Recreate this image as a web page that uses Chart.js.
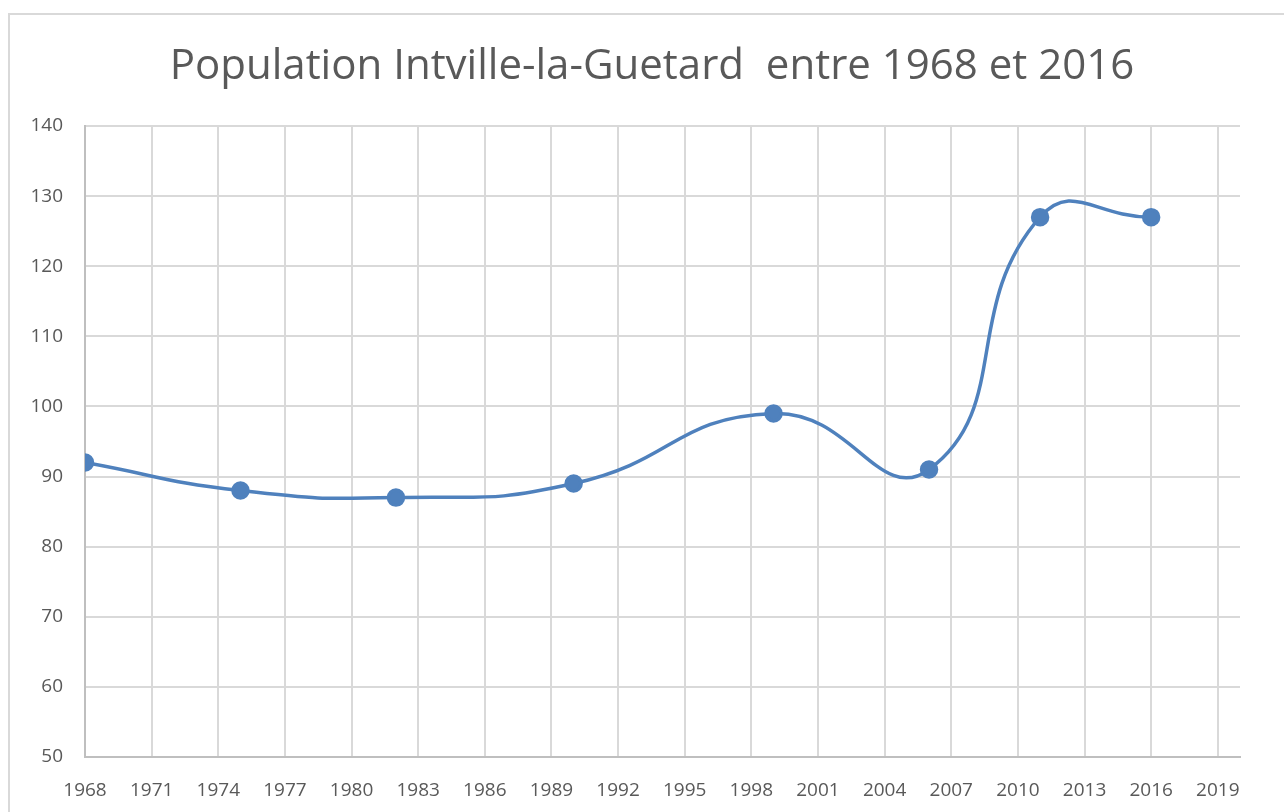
<!DOCTYPE html>
<html lang="fr">
<head>
  <meta charset="UTF-8" />
  <title>Population Intville-la-Guetard</title>
  <script src="https://cdn.jsdelivr.net/npm/chart.js"></script>
  <style>
    html, body { margin: 0; padding: 0; background: #fff; overflow: hidden; }
    .frame { position: absolute; left: 8px; top: 13px; width: 1300px; height: 820px; border: 2px solid #d9d9d9; }
    .wrap { position: absolute; left: 0; top: 0; width: 1284px; height: 812px; }
  </style>
</head>
<body>
<div class="frame"></div>
<div class="wrap"><canvas id="chart"></canvas></div>

<script>
const years = [1968, 1975, 1982, 1990, 1999, 2006, 2011, 2016];
const population = [92, 88, 87, 89, 99, 91, 127, 127];
const xTicks = [1968, 1971, 1974, 1977, 1980, 1983, 1986, 1989, 1992, 1995, 1998, 2001, 2004, 2007, 2010, 2013, 2016, 2019];

const FONT = "'Open Sans', 'Noto Sans', sans-serif";
const GREY_TEXT = '#595959';

// nudge the title box so it is centred like the original (not over the padded area)
const titleShift = {
  id: 'titleShift',
  afterLayout(chart) {
    if (chart.titleBlock) chart.titleBlock.left = 64;
  }
};

new Chart(document.getElementById('chart'), {
  type: 'line',
  data: {
    datasets: [{
      label: 'Population',
      data: years.map((y, i) => ({ x: y, y: population[i] })),
      borderColor: '#4f81bd',
      backgroundColor: '#4f81bd',
      borderWidth: 3.5,
      pointRadius: 7.5,
      pointHoverRadius: 7.5,
      tension: 0.5
    }]
  },
  options: {
    responsive: true,
    maintainAspectRatio: false,
    animation: false,
    layout: { padding: { left: 0, right: 44, top: 0, bottom: 0 } },
    plugins: {
      legend: { display: false },
      tooltip: { enabled: false },
      title: {
        display: true,
        text: 'Population Intville-la-Guetard  entre 1968 et 2016',
        color: GREY_TEXT,
        font: { family: FONT, size: 42, weight: 'normal' },
        padding: { top: 42, bottom: 33.6 }
      }
    },
    scales: {
      x: {
        type: 'linear',
        min: 1968,
        max: 2020,
        afterBuildTicks: s => { s.ticks = xTicks.map(v => ({ value: v })); },
        afterFit: s => { s.height = 55; },
        ticks: {
          color: GREY_TEXT,
          padding: 22,
          maxRotation: 0,
          autoSkip: false,
          font: { family: FONT, size: 19 },
          callback: v => String(v)
        },
        grid: { color: '#d9d9d9', lineWidth: 2, drawTicks: false },
        border: { color: '#bfbfbf', width: 2 }
      },
      y: {
        min: 50,
        max: 140,
        afterFit: s => { s.width = 85; },
        ticks: {
          stepSize: 10,
          color: GREY_TEXT,
          padding: 22,
          font: { family: FONT, size: 19 }
        },
        grid: { color: '#d9d9d9', lineWidth: 2, drawTicks: false },
        border: { color: '#bfbfbf', width: 2 }
      }
    }
  },
  plugins: [titleShift]
});
</script>
</body>
</html>
